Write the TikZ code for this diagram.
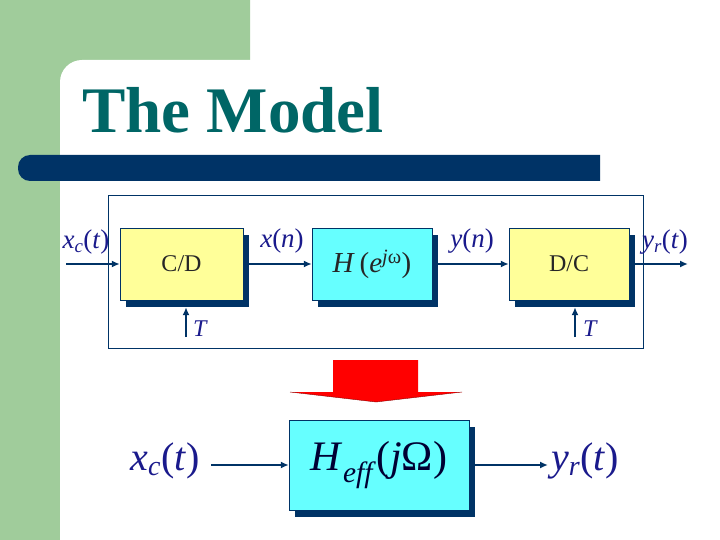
\documentclass[tikz,border=0pt]{standalone}
\usepackage{fontspec}
\setmainfont{Liberation Serif}
\usetikzlibrary{arrows.meta,shadows}
\definecolor{slidegreen}{RGB}{160,204,155}
\definecolor{titleteal}{RGB}{0,102,102}
\definecolor{barnavy}{RGB}{0,51,102}
\definecolor{labelblue}{RGB}{26,26,140}
\definecolor{boxyellow}{RGB}{255,255,153}
\definecolor{boxcyan}{RGB}{102,255,255}
\tikzset{
  block/.style={draw=barnavy, thin, minimum width=120pt, minimum height=72pt,
    font=\fontsize{24}{24}\selectfont, text=black!85,
    drop shadow={shadow xshift=6pt, shadow yshift=-7pt, fill=barnavy, opacity=1}},
  sig/.style={draw=barnavy, line width=2pt, -{Latex[length=8pt,width=7pt]}},
  lbl/.style={text=labelblue, font=\fontsize{27}{27}\selectfont, inner sep=0pt},
  biglbl/.style={text=labelblue, font=\fontsize{40}{40}\selectfont, inner sep=0pt},
}
\begin{document}
\begin{tikzpicture}[x=1pt,y=-1pt]
            \useasboundingbox (0,0) rectangle (720,540);
            % slide background
            \fill[white] (0,0) rectangle (720,540);
            \fill[slidegreen] (0,0) rectangle (250,60) (0,0) rectangle (60,540) (60,60) rectangle (85,85);
            \fill[white, rounded corners=22pt] (60,60) rectangle (760,580);
            \node[anchor=base west, text=titleteal, font=\fontsize{65}{65}\selectfont\bfseries, inner sep=0pt] (title) at (82,133) {The Model};
            \fill[barnavy] (600,155) [rounded corners=12pt]-- (18,155) -- (18,181) [sharp corners]-- (600,181) -- cycle;
            % sampled system
            \draw[barnavy, thin] (108,195) rectangle (643,348);
            \node[block, fill=boxyellow, minimum width=123pt] (cd) at (181.5,264) {C/D};
            \node[block, fill=boxcyan] (hz) at (372,264) {\fontsize{29}{29}\selectfont\textit{H}\,(\textit{e}\textsuperscript{\textit{j}ω})};
            \node[block, fill=boxyellow] (dc) at (569,264) {D/C};
            \coordinate (xin) at (66,264);
            \coordinate (yout) at (688,264);
            \coordinate (t1) at (186,337);
            \coordinate (t2) at (575,337);
            \draw[sig] (xin) -- (cd.west);
            \draw[sig] (cd.east) -- (hz.west);
            \draw[sig] (hz.east) -- (dc.west);
            \draw[sig] (dc.east) -- (yout);
            \draw[sig] (t1) -- ([yshift=-7pt]t1 |- cd.south);
            \draw[sig] (t2) -- ([yshift=-7pt]t2 |- dc.south);
            \node[lbl] (xcl) at (86,242) {\textit{x}\textsubscript{\textit{c}}(\textit{t})};
            \node[lbl] (xnl) at (282,241) {\textit{x}(\textit{n})};
            \node[lbl] (ynl) at (472,241) {\textit{y}(\textit{n})};
            \node[lbl] (yrl) at (665,242) {\textit{y}\textsubscript{\textit{r}}(\textit{t})};
            \node[lbl, font=\fontsize{24}{24}\selectfont, anchor=west] (tl1) at (193,329) {\textit{T}};
            \node[lbl, font=\fontsize{24}{24}\selectfont, anchor=west] (tl2) at (583,329) {\textit{T}};
            % red arrow
            \fill[red] (333,360) -- (418,360) -- (418,392) -- (462,392) -- (376,402) -- (290,392) -- (333,392) -- cycle;
            \draw[red!55!black, thin] (290,392) -- (376,402) -- (462,392);
            % equivalent system
            \node[block, fill=boxcyan, minimum width=180pt, minimum height=90pt,
              font=\fontsize{42}{42}\selectfont, text=black!80!blue] (heff) at (379,465)
              {\textit{H}\textsubscript{\textit{eff}}(\textit{j}Ω)};
            \coordinate (xin2) at (211,465);
            \coordinate (yout2) at (548,465);
            \draw[sig] (xin2) -- (heff.west);
            \draw[sig] (heff.east) -- (yout2);
            \node[biglbl] (xcl2) at (165,461) {\textit{x}\textsubscript{\textit{c}}(\textit{t})};
            \node[biglbl] (yrl2) at (585,461) {\textit{y}\textsubscript{\textit{r}}(\textit{t})};
\end{tikzpicture}
\end{document}
